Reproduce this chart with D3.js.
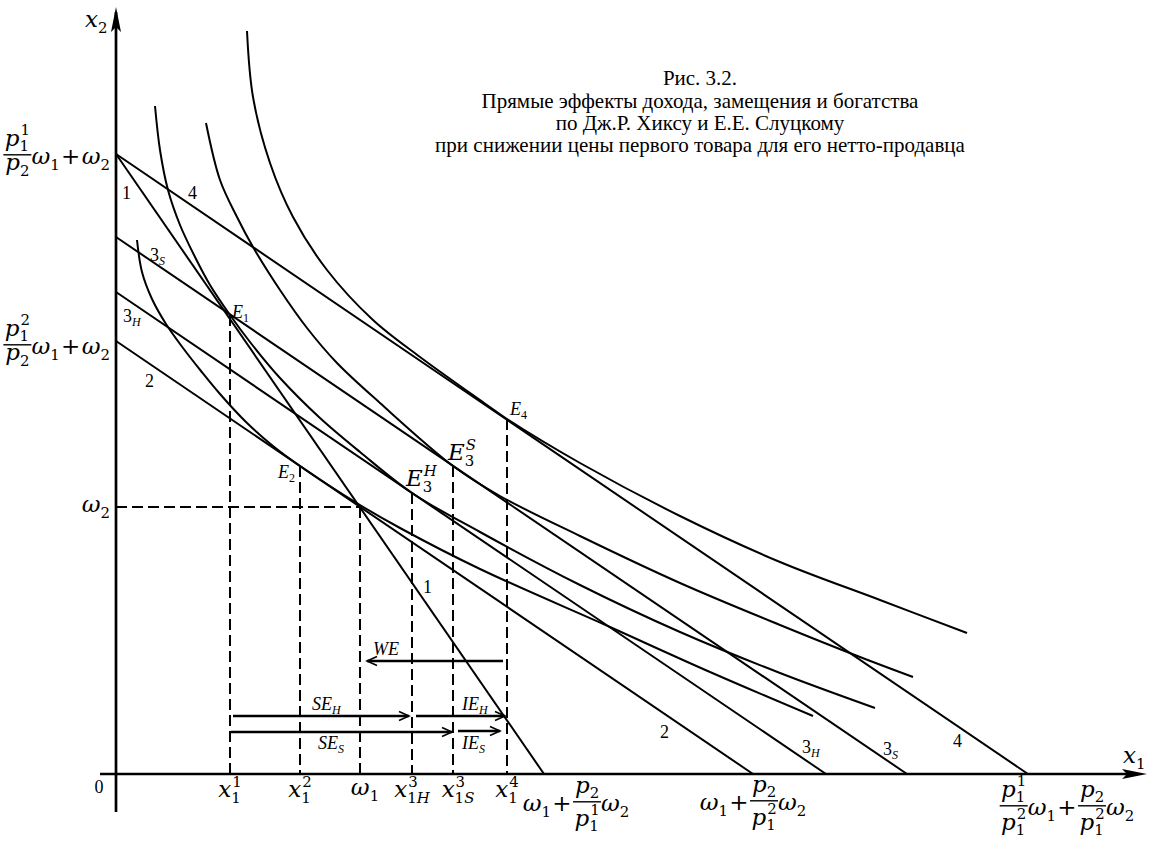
<!DOCTYPE html>
<html>
<head>
<meta charset="utf-8">
<script src="https://cdn.jsdelivr.net/npm/d3@7"></script>
<style>
  body { margin: 0; background: #fff; }
  svg { display: block; }
</style>
</head>
<body>
<svg id="chart" width="1151" height="841"></svg>
<script>
// budget lines: intercept on the x1 axis and on the x2 axis (model units)
var budgetNames = ["1", "2", "3H", "3S", "4"];
var budgetX1 = [4.28, 6.37, 7.10, 7.91, 9.12];
var budgetX2 = [6.20, 4.33, 4.82, 5.37, 6.20];

// indifference curves, points
var curveU1 = [[0.39, 6.68], [0.44, 6.24], [0.52, 5.84], [0.64, 5.49], [0.79, 5.17], [0.94, 4.89],
  [1.14, 4.59], [1.34, 4.32], [1.64, 3.96], [2.04, 3.56], [2.44, 3.22], [2.96, 2.81],
  [3.64, 2.42], [4.64, 1.89], [5.64, 1.42], [6.64, 1.01], [7.59, 0.66]];
var curveU2 = [[0.21, 5.34], [0.26, 5.02], [0.36, 4.75], [0.50, 4.50], [0.67, 4.26], [0.85, 4.03],
  [1.04, 3.80], [1.30, 3.52], [1.57, 3.28], [1.84, 3.08], [2.44, 2.69], [2.84, 2.46],
  [3.64, 2.05], [4.94, 1.47], [5.94, 1.02], [6.97, 0.58]];
var curveU3 = [[0.90, 6.51], [1.04, 5.94], [1.21, 5.57], [1.37, 5.27], [1.64, 4.84], [1.91, 4.46],
  [2.21, 4.11], [2.64, 3.71], [3.37, 3.08], [3.84, 2.78], [4.64, 2.38], [5.64, 1.91],
  [6.64, 1.49], [7.44, 1.17], [7.97, 0.97]];
var curveU4 = [[1.31, 7.43], [1.37, 6.77], [1.54, 6.11], [1.77, 5.57], [2.11, 5.04], [2.57, 4.54],
  [3.04, 4.17], [3.71, 3.69], [3.91, 3.55], [4.64, 3.11], [5.64, 2.58], [6.64, 2.12],
  [7.64, 1.74], [8.51, 1.41]];

// equilibrium bundles and initial endowment
var eqNames = ["E1", "E2", "E3H", "E3S", "E4"];
var eqX = [1.14, 1.84, 2.96, 3.37, 3.91];
var eqY = [4.59, 3.08, 2.81, 3.08, 3.55];
var omega = [2.44, 2.67];

// effect arrows between demand levels
var effectNames = ["SE_H", "IE_H", "SE_S", "IE_S", "WE"];
var effectFrom = [1.14, 2.96, 1.14, 3.37, 3.91];
var effectTo = [2.96, 3.91, 3.37, 3.91, 2.44];
var effectLevel = [0.58, 0.58, 0.42, 0.43, 1.13];

var titleLines = [
  "Рис. 3.2.",
  "Прямые эффекты дохода, замещения и богатства",
  "по Дж.Р. Хиксу и Е.Е. Слуцкому",
  "при снижении цены первого товара для его нетто-продавца"
];

(function () {
  var svg = d3.select("#chart");
  var x = d3.scaleLinear().domain([0, 10]).range([116, 1116]);
  var y = d3.scaleLinear().domain([0, 7.74]).range([774, 0]);

  var MATH = "'DejaVu Serif', serif";
  var TIMES = "'Liberation Serif', 'Times New Roman', serif";
  var MS = 23;

  // ---- dashed guides
  var guides = svg.append("g")
    .attr("stroke", "#000").attr("stroke-width", 2).attr("stroke-dasharray", "11,5").attr("fill", "none");
  eqX.forEach(function (v, i) {
    guides.append("line")
      .attr("x1", x(v)).attr("x2", x(v)).attr("y1", y(eqY[i])).attr("y2", y(0));
  });
  guides.append("line")
    .attr("x1", x(omega[0])).attr("x2", x(omega[0])).attr("y1", y(omega[1])).attr("y2", y(0));
  guides.append("line")
    .attr("x1", x(0)).attr("x2", x(omega[0])).attr("y1", y(omega[1])).attr("y2", y(omega[1]));

  // ---- budget lines
  var lines = svg.append("g").attr("stroke", "#000").attr("stroke-width", 2);
  budgetNames.forEach(function (n, i) {
    lines.append("line")
      .attr("x1", x(0)).attr("y1", y(budgetX2[i]))
      .attr("x2", x(budgetX1[i])).attr("y2", y(0));
  });

  // ---- indifference curves
  var curve = d3.line()
    .x(function (d) { return x(d[0]); })
    .y(function (d) { return y(d[1]); })
    .curve(d3.curveCatmullRom.alpha(0.5));
  [curveU1, curveU2, curveU3, curveU4].forEach(function (c) {
    svg.append("path").attr("d", curve(c))
      .attr("fill", "none").attr("stroke", "#000").attr("stroke-width", 2);
  });

  // ---- axes
  svg.append("line")
    .attr("x1", x(0)).attr("x2", x(0)).attr("y1", y(-0.38)).attr("y2", y(7.62))
    .attr("stroke", "#000").attr("stroke-width", 2.7);
  svg.append("line")
    .attr("x1", x(-0.16)).attr("x2", x(10.2)).attr("y1", y(0)).attr("y2", y(0))
    .attr("stroke", "#000").attr("stroke-width", 2.7);
  var tx = x(0), ty = y(7.67);
  svg.append("path")
    .attr("d", "M" + tx + "," + ty + "L" + (tx + 5) + "," + (ty + 25) + "L" + tx + "," + (ty + 20) +
      "L" + (tx - 5) + "," + (ty + 25) + "Z");
  var ax = x(10.31), ay = y(0);
  svg.append("path")
    .attr("d", "M" + ax + "," + ay + "L" + (ax - 25) + "," + (ay - 5) + "L" + (ax - 20) + "," + ay +
      "L" + (ax - 25) + "," + (ay + 5) + "Z");

  // ---- effect arrows
  var pads = {SE_H: [3, 3], IE_H: [4, 2], SE_S: [1, 1], IE_S: [5, 7], WE: [4, 7]};
  var arrows = svg.append("g").attr("stroke", "#000").attr("fill", "none");
  effectNames.forEach(function (n, i) {
    var dir = effectTo[i] > effectFrom[i] ? 1 : -1;
    var x1 = x(effectFrom[i]) + dir * pads[n][0];
    var x2 = x(effectTo[i]) - dir * pads[n][1];
    var yy = y(effectLevel[i]);
    arrows.append("line").attr("x1", x1).attr("x2", x2).attr("y1", yy).attr("y2", yy)
      .attr("stroke-width", 2.6);
    arrows.append("path")
      .attr("d", "M" + (x2 - dir * 10) + "," + (yy - 4.5) + "L" + x2 + "," + yy + "L" +
        (x2 - dir * 10) + "," + (yy + 4.5))
      .attr("stroke-width", 1.6);
  });

  // ---- text helpers
  function run(g, str, px, py, size) {
    var t = g.append("text").attr("x", px).attr("y", py)
      .style("font-family", MATH).style("font-size", size + "px");
    str.split("").forEach(function (ch) {
      t.append("tspan").text(ch)
        .style("font-style", /[A-Za-zω]/.test(ch) ? "italic" : "normal");
    });
    return t.node().getComputedTextLength();
  }

  function hasSup(items) {
    return items.some(function (d) { return d && d.sup; });
  }

  function row(g, items, x0, py, size) {
    var cx = x0;
    items.forEach(function (it) {
      if (typeof it === "string") {
        cx += run(g, it, cx, py, size);
      } else if (it.op) {
        cx += size * 0.06;
        cx += run(g, it.op, cx, py, size);
        cx += size * 0.06;
      } else if (it.num) {
        var ng = g.append("g"), dg = g.append("g");
        var nw = row(ng, it.num, 0, 0, size);
        var dw = row(dg, it.den, 0, 0, size);
        var w = Math.max(nw, dw) + size * 0.12;
        var bar = py - size * 0.4;
        var dshift = size * (hasSup(it.den) ? 1.04 : 0.68);
        ng.attr("transform", "translate(" + (cx + (w - nw) / 2) + "," + (bar - size * 0.4) + ")");
        dg.attr("transform", "translate(" + (cx + (w - dw) / 2) + "," + (bar + dshift) + ")");
        g.append("line").attr("x1", cx).attr("x2", cx + w).attr("y1", bar).attr("y2", bar)
          .attr("stroke", "#000").attr("stroke-width", 1.4);
        cx += w;
      } else {
        var bw = run(g, it.b, cx, py, size);
        var ss = size * 0.65;
        var w1 = it.sup ? run(g, it.sup, cx + bw + 1, py - size * 0.45, ss) : 0;
        var w2 = it.sub ? run(g, it.sub, cx + bw, py + size * 0.25, ss) : 0;
        cx += bw + Math.max(w1 + 1, w2);
      }
    });
    return cx - x0;
  }

  function math(items, px, py, align) {
    var g = svg.append("g");
    var w = row(g, items, 0, 0, MS);
    var off = align === "end" ? -w : align === "start" ? 0 : -w / 2;
    g.attr("transform", "translate(" + (px + off) + "," + py + ")");
    return g;
  }

  function tlabel(px, py, base, sub, baseItalic, subItalic) {
    var t = svg.append("text").attr("x", px).attr("y", py)
      .style("font-family", TIMES).style("font-size", "18px");
    t.append("tspan").text(base).style("font-style", baseItalic ? "italic" : "normal");
    if (sub) {
      t.append("tspan").text(sub).attr("dy", 4).style("font-size", "12px")
        .style("font-style", subItalic ? "italic" : "normal");
    }
    return t;
  }

  // ---- axis names and origin
  math([{b: "x", sub: "2"}], x(0) - 31, 27, "start");
  math([{b: "x", sub: "1"}], x(10.07), 763, "start");
  svg.append("text").attr("x", x(-0.17)).attr("y", 793).attr("text-anchor", "middle")
    .style("font-family", TIMES).style("font-size", "18px").text("0");

  // ---- intercept labels on the x2 axis
  var p11 = {b: "p", sub: "1", sup: "1"}, p12 = {b: "p", sub: "1", sup: "2"}, p2 = {b: "p", sub: "2"};
  var w1 = {b: "ω", sub: "1"}, w2 = {b: "ω", sub: "2"};
  math([{num: [p11], den: [p2]}, w1, {op: "+"}, w2], x(0) - 6, y(budgetX2[0]) + 10, "end");
  math([{num: [p12], den: [p2]}, w1, {op: "+"}, w2], x(0) - 6, y(budgetX2[1]) + 13, "end");
  math([w2], x(0) - 6, y(omega[1]) + 5, "end");

  // ---- labels on the x1 axis
  math([{b: "x", sub: "1", sup: "1"}], x(eqX[0]), 797);
  math([{b: "x", sub: "1", sup: "2"}], x(eqX[1]), 797);
  math([w1], x(omega[0]) + 5, 795);
  math([{b: "x", sub: "1H", sup: "3"}], x(eqX[2]), 797);
  math([{b: "x", sub: "1S", sup: "3"}], x(eqX[3]) + 5, 797);
  math([{b: "x", sub: "1", sup: "4"}], x(eqX[4]), 797);
  math([w1, {op: "+"}, {num: [p2], den: [p11]}, w2], x(budgetX1[0]) + 32, 811);
  math([w1, {op: "+"}, {num: [p2], den: [p12]}, w2], x(budgetX1[1]), 810);
  math([{num: [p11], den: [p12]}, w1, {op: "+"}, {num: [p2], den: [p12]}, w2], x(budgetX1[4]) + 39, 815);

  // ---- budget line numbers
  tlabel(x(0.06), 199, "1");
  tlabel(x(0.72), 199, "4");
  tlabel(x(0.34), 261, "3", "S", false, true);
  tlabel(x(0.07), 322, "3", "H", false, true);
  tlabel(x(0.29), 387, "2");
  tlabel(x(3.07), 593, "1");
  tlabel(x(5.44), 738, "2");
  tlabel(x(6.86), 753, "3", "H", false, true);
  tlabel(x(7.67), 755, "3", "S", false, true);
  tlabel(x(8.37), 747, "4");

  // ---- equilibrium labels
  tlabel(x(eqX[0]) + 2, y(eqY[0]) + 3, "E", "1", true, false);
  tlabel(x(eqX[1]) - 22, y(eqY[1]) + 12, "E", "2", true, false);
  tlabel(x(eqX[4]) + 3, y(eqY[4]) - 4, "E", "4", true, false);
  math([{b: "E", sub: "3", sup: "H"}], x(eqX[2]) - 6, y(eqY[2]) - 7, "start");
  math([{b: "E", sub: "3", sup: "S"}], x(eqX[3]) - 5, y(eqY[3]) - 6, "start");

  // ---- effect labels
  tlabel(373, y(effectLevel[4]) - 6, "WE", null, true);
  tlabel(312, y(effectLevel[0]) - 6, "SE", "H", true, true);
  tlabel(462, y(effectLevel[1]) - 6, "IE", "H", true, true);
  tlabel(318, y(effectLevel[2]) + 17, "SE", "S", true, true);
  tlabel(462, y(effectLevel[3]) + 18, "IE", "S", true, true);

  // ---- caption
  svg.append("g").selectAll("text").data(titleLines).enter().append("text")
    .attr("x", 700)
    .attr("y", function (d, i) { return i === 0 ? 85 : 86 + i * 22; })
    .attr("text-anchor", "middle")
    .style("font-family", TIMES).style("font-size", "21px")
    .text(function (d) { return d; });
})();
</script>
</body>
</html>
